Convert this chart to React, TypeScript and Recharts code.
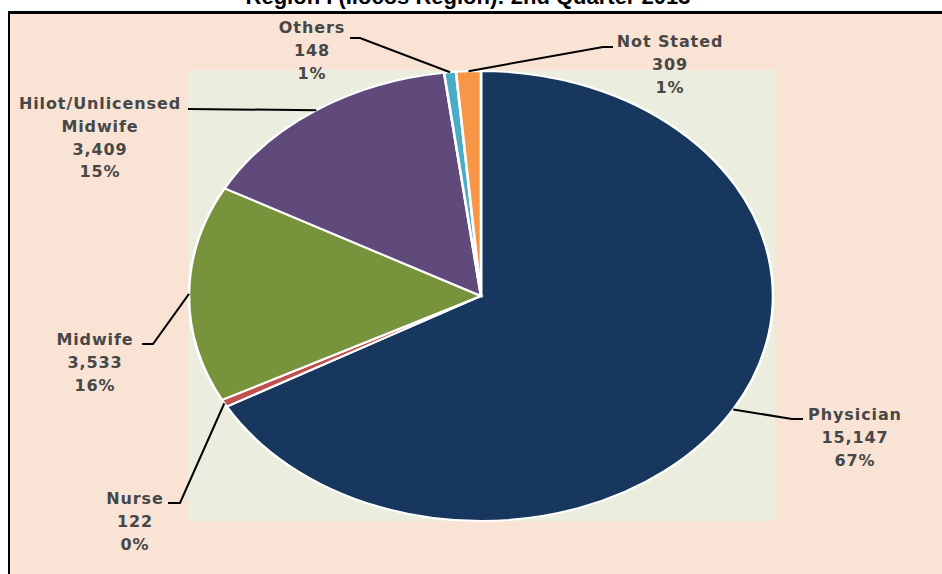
import { PieChart, Pie, Cell } from "recharts";

const categories = ["Physician", "Nurse", "Midwife", "Hilot/Unlicensed Midwife", "Others", "Not Stated"];
const counts = [15147, 122, 3533, 3409, 148, 309];
const pctLabels = ["67%", "0%", "16%", "15%", "1%", "1%"];
const colors = ["#17375E", "#C0504D", "#77933C", "#604A7B", "#4BACC6", "#F79646"];

const data = categories.map((name, i) => ({ name, value: counts[i], pct: pctLabels[i] }));

// pie is drawn as a circle and stretched horizontally
const CX = 481;
const CY = 296;
const RY = 225;
const SX = 292 / 225;
const RAD = Math.PI / 180;

// leader elbow / end, text centre + first baseline
const labelLayout: Record<string, { elbow: number[]; end: number[]; tx: number; ty: number; lines?: string[] }> = {
  Physician: { elbow: [792, 419], end: [803, 419], tx: 855, ty: 420 },
  Nurse: { elbow: [180, 503], end: [168, 503], tx: 135, ty: 504 },
  Midwife: { elbow: [153, 344], end: [142, 344], tx: 95, ty: 345 },
  "Hilot/Unlicensed Midwife": { elbow: [188, 109], end: [188, 109], tx: 100, ty: 109, lines: ["Hilot/Unlicensed", "Midwife"] },
  Others: { elbow: [360, 38], end: [350, 38], tx: 312, ty: 33 },
  "Not Stated": { elbow: [603, 47], end: [613, 47], tx: 670, ty: 47 },
};

const renderLabel = (props: any) => {
  const { cx, cy, midAngle, outerRadius, name, value, payload } = props;
  const lay = labelLayout[name];
  if (!lay) return null;
  const sx = cx + outerRadius * SX * Math.cos(-midAngle * RAD);
  const sy = cy + outerRadius * Math.sin(-midAngle * RAD);
  const lines = [...(lay.lines || [name]), Number(value).toLocaleString("en-US"), payload.pct];
  return (
    <g>
      <polyline
        points={`${sx},${sy} ${lay.elbow[0]},${lay.elbow[1]} ${lay.end[0]},${lay.end[1]}`}
        fill="none"
        stroke="#000"
        strokeWidth={2}
      />
      <text
        x={lay.tx}
        y={lay.ty}
        textAnchor="middle"
        fill="#474747"
        fontSize={16}
        fontWeight={700}
        letterSpacing={0.9}
        fontFamily="DejaVu Sans, sans-serif"
      >
        {lines.map((l, i) => (
          <tspan key={i} x={lay.tx} y={lay.ty + i * 22.8}>
            {l}
          </tspan>
        ))}
      </text>
    </g>
  );
};

export default function App() {
  return (
    <div style={{ position: "absolute", left: 0, top: 0, width: 942, height: 574, overflow: "hidden", background: "#fff" }}>
      <style>{`.recharts-pie-sector { transform-origin: ${CX}px ${CY}px; transform: scaleX(${SX}); }`}</style>
      <div
        style={{
          position: "absolute",
          left: 0,
          right: 0,
          top: -16,
          textAlign: "center",
          fontFamily: "Liberation Sans, Arial, sans-serif",
          fontWeight: 700,
          fontSize: 22,
          lineHeight: "26px",
          color: "#000",
          transform: "translateX(-3px)",
        }}
      >
        Region I (Ilocos Region): 2nd Quarter 2013
      </div>
      <div
        style={{
          position: "absolute",
          left: 8,
          top: 11,
          width: 960,
          height: 600,
          background: "#F8E3D5",
          borderLeft: "2px solid #000",
          borderTop: "3px solid #000",
        }}
      />
      <div style={{ position: "absolute", left: 188, top: 70, width: 587, height: 451, background: "#EBEEDE" }} />
      <div style={{ position: "absolute", left: 0, top: 0 }}>
        <PieChart width={942} height={574} margin={{ top: 0, right: 0, bottom: 0, left: 0 }}>
          <Pie
            data={data}
            dataKey="value"
            nameKey="name"
            cx={CX}
            cy={CY}
            outerRadius={RY}
            startAngle={90}
            endAngle={-270}
            stroke="#fff"
            strokeWidth={2}
            label={renderLabel}
            labelLine={false}
            isAnimationActive={false}
          >
            {data.map((d, i) => (
              <Cell key={d.name} fill={colors[i]} />
            ))}
          </Pie>
        </PieChart>
      </div>
    </div>
  );
}
